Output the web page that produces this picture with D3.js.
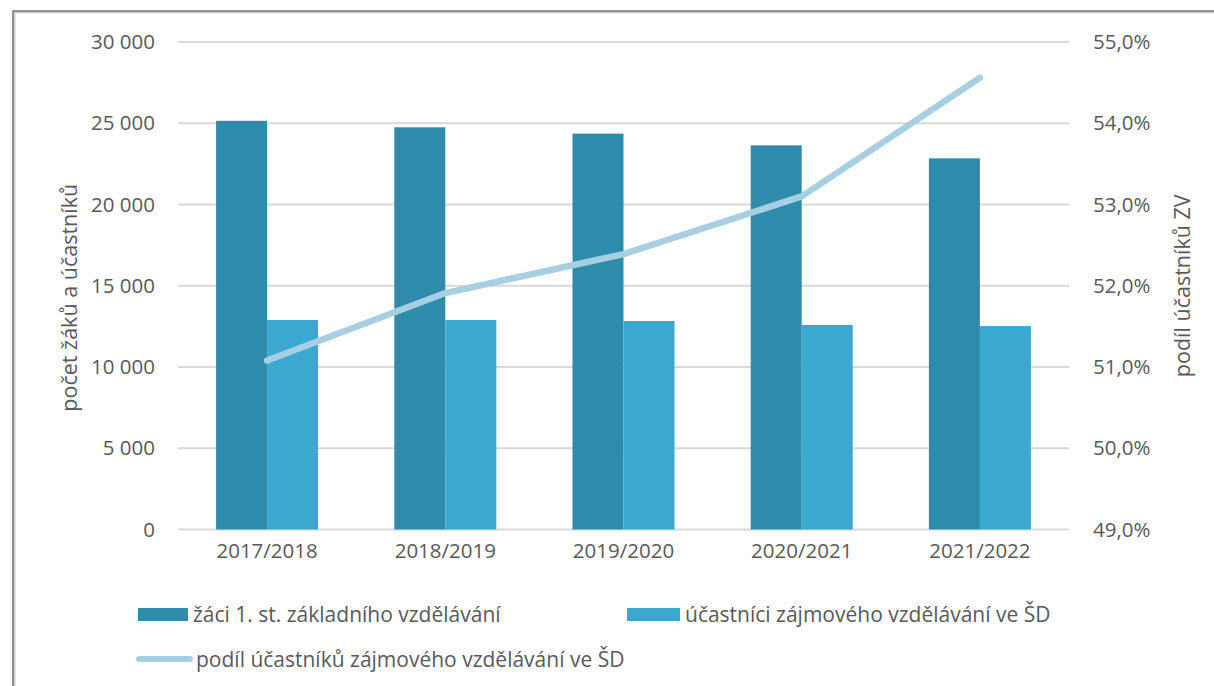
<!DOCTYPE html>
<html><head><meta charset="utf-8">
<script src="https://cdn.jsdelivr.net/npm/d3@7"></script>
<style>
html,body{margin:0;padding:0;background:#fff;}
svg{display:block;font-family:"Open Sans",sans-serif;}
</style></head>
<body><svg id="c" width="1214" height="686"></svg>
<script>
const categories = ["2017/2018","2018/2019","2019/2020","2020/2021","2021/2022"];
const zaci = [25150, 24750, 24360, 23640, 22840];
const ucastnici = [12890, 12890, 12830, 12590, 12520];
const podil = [51.08, 51.91, 52.39, 53.10, 54.56];
const leftTicks = [0, 5000, 10000, 15000, 20000, 25000, 30000];
const rightTicks = [49, 50, 51, 52, 53, 54, 55];
const seriesNames = ["žáci 1. st. základního vzdělávání", "účastníci zájmového vzdělávání ve ŠD", "podíl účastníků zájmového vzdělávání ve ŠD"];
const axisTitles = ["počet žáků a účastníků", "podíl účastníků ZV"];
const colors = ["#2e8bab", "#3ba9cf", "#a6d0e2"];

const svg = d3.select("#c");
const L = 178, R = 1069, T = 42, B = 529.5;
const textCol = "#595959";

// frame
svg.append("rect").attr("x",14).attr("y",12).attr("width",1210).attr("height",690)
  .attr("fill","none").attr("stroke","#d0d0d0").attr("stroke-width",3);
svg.append("rect").attr("x",13).attr("y",11).attr("width",1210).attr("height",690)
  .attr("fill","none").attr("stroke","#7f7f7f").attr("stroke-width",1.6);

const p = 0.4276;
const x0 = d3.scaleBand().domain(categories).range([L,R]).paddingInner(p).paddingOuter(p/2);
const x1 = d3.scaleBand().domain([0,1]).range([0,x0.bandwidth()]);
const yL = d3.scaleLinear().domain([0,30000]).range([B,T]);
const yR = d3.scaleLinear().domain([49,55]).range([B,T]);

const fmtL = d => d3.format(",")(d).replace(/,/g," ");
const fmtR = d => d3.format(".1f")(d).replace(".",",") + "%";

// grid
svg.append("g").selectAll("line").data(leftTicks).join("line")
  .attr("x1",L).attr("x2",R).attr("y1",d=>yL(d)).attr("y2",d=>yL(d))
  .attr("stroke","#d9d9d9").attr("stroke-width",2);

// left axis labels
const axL = d3.axisLeft(yL).tickValues(leftTicks).tickFormat(fmtL).tickSize(0).tickPadding(23);
const gL = svg.append("g").attr("transform",`translate(${L},0)`).call(axL);
gL.select(".domain").remove();
gL.selectAll("text").attr("fill",textCol).attr("font-size",20.5).attr("font-family","Open Sans");

const axR = d3.axisRight(yR).tickValues(rightTicks).tickFormat(fmtR).tickSize(0).tickPadding(24);
const gR = svg.append("g").attr("transform",`translate(${R},0)`).call(axR);
gR.select(".domain").remove();
gR.selectAll("text").attr("fill",textCol).attr("font-size",20.5).attr("font-family","Open Sans");

// bars
const series = [zaci, ucastnici];
series.forEach((vals, si) => {
  svg.append("g").selectAll("rect").data(vals).join("rect")
    .attr("x",(d,i)=>x0(categories[i])+x1(si))
    .attr("width",x1.bandwidth())
    .attr("y",d=>yL(d)).attr("height",d=>B-yL(d))
    .attr("fill",colors[si]);
});

// x axis labels
const axX = d3.axisBottom(x0).tickSize(0).tickPadding(14);
const gX = svg.append("g").attr("transform",`translate(0,${B})`).call(axX);
gX.select(".domain").remove();
gX.selectAll("text").attr("fill",textCol).attr("font-size",20.5).attr("font-family","Open Sans");

// line
const line = d3.line().x((d,i)=>x0(categories[i])+x0.bandwidth()/2).y(d=>yR(d));
svg.append("path").datum(podil).attr("d",line).attr("fill","none")
  .attr("stroke",colors[2]).attr("stroke-width",6.5).attr("stroke-linecap","round").attr("stroke-linejoin","round");

// axis titles
svg.append("text").attr("transform",`translate(77,${(T+B)/2 + 12}) rotate(-90)`)
  .attr("text-anchor","middle").attr("fill",textCol).attr("font-size",21.5).text(axisTitles[0]);
svg.append("text").attr("transform",`translate(1190,${(T+B)/2}) rotate(-90)`)
  .attr("text-anchor","middle").attr("fill",textCol).attr("font-size",21.5).text(axisTitles[1]);

// legend
const lg = svg.append("g").attr("font-size",21).attr("fill",textCol);
lg.append("rect").attr("x",138).attr("y",608).attr("width",50).attr("height",13).attr("fill",colors[0]);
lg.append("text").attr("x",193).attr("y",622).text(seriesNames[0]);
lg.append("rect").attr("x",627).attr("y",608).attr("width",53).attr("height",13).attr("fill",colors[1]);
lg.append("text").attr("x",685).attr("y",622).text(seriesNames[1]);
lg.append("line").attr("x1",139).attr("x2",190).attr("y1",659).attr("y2",659)
  .attr("stroke",colors[2]).attr("stroke-width",6).attr("stroke-linecap","round");
lg.append("text").attr("x",196).attr("y",667).text(seriesNames[2]);
</script></body></html>
